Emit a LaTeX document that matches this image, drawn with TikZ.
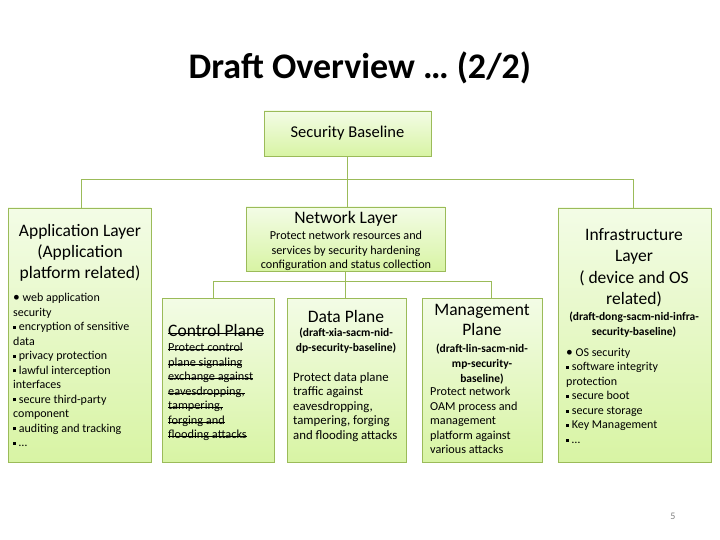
\documentclass[tikz,border=0pt]{standalone}
\usepackage{fontspec}
\setmainfont{Carlito}
\usepackage{tikz}
\usetikzlibrary{positioning,calc}
\definecolor{olive}   {HTML}{9BBB59}
\definecolor{leaftop} {HTML}{F3FCE6}
\definecolor{leafbot} {HTML}{D8F4A4}
\definecolor{pagegray}{HTML}{808080}
\newcommand{\fs}[2]{\fontsize{#1}{#2}\selectfont}
\newcommand{\sqb}{\rule[0.3ex]{0.25em}{0.25em}}
\newsavebox{\strkbox}
\newcommand{\strk}[1]{\sbox{\strkbox}{#1}\rlap{\rule[0.32ex]{\wd\strkbox}{0.7pt}}\usebox{\strkbox}}
\tikzset{
  % --- boxes
  leaf/.style  = {draw=olive, line width=0.8pt, top color=leaftop, bottom color=leafbot,
                  inner sep=0pt},
  % --- texts
  hd/.style    = {inner sep=0pt, anchor=north, align=center},
  txt/.style   = {inner sep=0pt, anchor=north west, align=left},
  % --- edges
  link/.style  = {draw=olive, line width=0.8pt},
}

\begin{document}
\begin{tikzpicture}[x=1pt,y=-1pt]
  \useasboundingbox (0,0) rectangle (720,540);

  \node[font=\fs{36}{40}\bfseries] (title) at (360,68) {Draft Overview … (2/2)};

  % --- boxes
  \node[leaf, minimum width=167, minimum height=45]  (base)  at (347.5,133.5) {};
  \node[leaf, minimum width=143, minimum height=254] (app)   at (79.5,335) {};
  \node[leaf, minimum width=199, minimum height=64]  (net)   at (345.5,239) {};
  \node[leaf, minimum width=153, minimum height=254] (infra) at (634.5,335) {};
  \node[leaf, minimum width=112, minimum height=164] (ctrl)  at (218,380) {};
  \node[leaf, minimum width=119, minimum height=164] (dat)   at (346.5,380) {};
  \node[leaf, minimum width=120, minimum height=164] (mgmt)  at (482,380) {};

  \coordinate (bus1) at (347,179);
  \coordinate (bus2) at (345,281);

  % --- connectors
  \draw[link] (base.south) -- (base.south |- net.north);
  \draw[link] ([xshift=2]app.north) -- ([xshift=2]app.north |- bus1)
              -- ([xshift=-1]infra.north |- bus1) -- ([xshift=-1]infra.north);
  \draw[link] (net.south) -- (net.south |- dat.north);
  \draw[link] ([xshift=-5]ctrl.north) -- ([xshift=-5]ctrl.north |- bus2)
              -- ([xshift=9]mgmt.north |- bus2) -- ([xshift=9]mgmt.north);

  % --- texts
  \node[font=\fs{16.5}{19}] (basetxt) at (base.center) {Security Baseline};

  \node[hd, font=\fs{17.5}{21}] (apphd) at (80,224) {Application Layer\\(Application\\platform related)};
  \node[txt, font=\fs{12}{14.5}] (appbody) at (13,293)
    {{\fs{13.5}{14.5}\textbullet}\ web application\\security\\
     \sqb\ encryption of sensitive\\data\\
     \sqb\ privacy protection\\
     \sqb\ lawful interception\\interfaces\\
     \sqb\ secure third-party\\component\\
     \sqb\ auditing and tracking\\
     \sqb\ …};

  \node[hd, font=\fs{17.5}{20}] (nethd) at (346,211) {Network Layer};
  \node[hd, font=\fs{12.2}{14.5}] (netbody) at (346,231)
    {Protect network resources and\\services by security hardening\\configuration and status collection};

  \node[txt, font=\fs{17.5}{20}] (ctrlhd) at (168,324) {\strk{Control Plane}};
  \node[txt, font=\fs{12.3}{14.5}] (ctrlbody) at (168,343)
    {\strk{Protect control}\\\strk{plane signaling}\\\strk{exchange against}\\
     \strk{eavesdropping,}\\\strk{tampering,}\\\strk{forging and}\\\strk{flooding attacks}};

  \node[hd, font=\fs{17.5}{20}] (dathd) at (346,310) {Data Plane};
  \node[hd, font=\fs{11.5}{15}\bfseries] (datdraft) at (346,328) {(draft-xia-sacm-nid-\\dp-security-baseline)};
  \node[txt, font=\fs{12.8}{14.5}] (datbody) at (293,372)
    {Protect data plane\\traffic against\\eavesdropping,\\tampering, forging\\and flooding attacks};

  \node[hd, font=\fs{17.5}{20}] (mgmthd) at (482,304) {Management\\Plane};
  \node[hd, font=\fs{11.5}{15}\bfseries] (mgmtdraft) at (482,343.5) {(draft-lin-sacm-nid-\\mp-security-\\baseline)};
  \node[txt, font=\fs{12.2}{14.5}] (mgmtbody) at (430,387)
    {Protect network\\OAM process and\\management\\platform against\\various attacks};

  \node[hd, font=\fs{17.5}{21.5}] (infrahd) at (634,228) {Infrastructure\\Layer\\( device and OS\\related)};
  \node[hd, font=\fs{11.5}{15}\bfseries] (infradraft) at (634,312) {(draft-dong-sacm-nid-infra-\\security-baseline)};
  \node[txt, font=\fs{12}{14.5}] (infrabody) at (566,348)
    {{\fs{13.5}{14.5}\textbullet}\ OS security\\
     \sqb\ software integrity\\protection\\
     \sqb\ secure boot\\
     \sqb\ secure storage\\
     \sqb\ Key Management\\
     \sqb\ …};

  \node[font=\fs{10}{12}, text=pagegray] (pgno) at (673,516) {5};
\end{tikzpicture}
\end{document}
